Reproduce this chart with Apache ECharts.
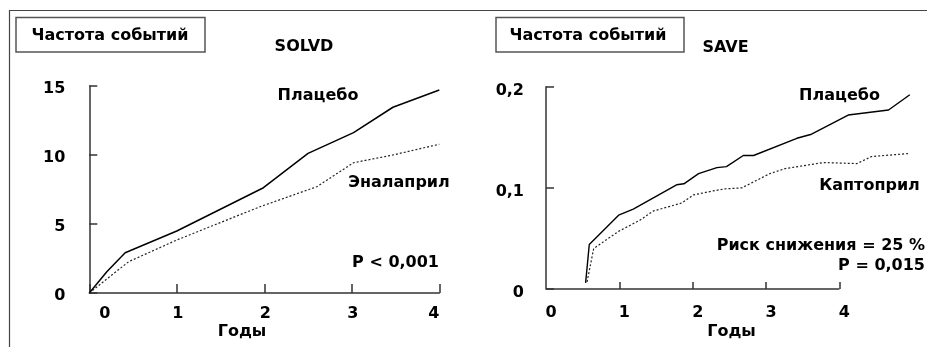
<!DOCTYPE html>
<html><head><meta charset="utf-8">
<script src="https://cdn.jsdelivr.net/npm/echarts@6/dist/echarts.min.js"></script>
<style>html,body{margin:0;padding:0;background:#fff}#c{width:927px;height:347px}</style>
</head><body><div id="c"></div>
<script>
// ---- data ----
const solvdPlaceboX   = [0, 0.20, 0.41, 1.00, 1.99, 2.50, 3.02, 3.47, 4.00];
const solvdPlaceboY   = [0, 1.54, 2.92, 4.49, 7.63, 10.12, 11.62, 13.46, 14.71];
const solvdEnalaprilX = [0, 0.45, 1.00, 1.95, 2.60, 3.02, 3.47, 4.00];
const solvdEnalaprilY = [0, 2.27, 3.84, 6.25, 7.70, 9.44, 10.00, 10.78];

const savePlaceboX   = [0.54, 0.59, 0.99, 1.19, 1.78, 1.88, 2.08, 2.33, 2.46, 2.69, 2.83, 3.42, 3.62, 4.12, 4.67, 4.96];
const savePlaceboY   = [0.006, 0.044, 0.073, 0.079, 0.103, 0.104, 0.114, 0.120, 0.121, 0.132, 0.132, 0.149, 0.153, 0.172, 0.177, 0.192];
const saveCaptoprilX = [0.56, 0.65, 0.99, 1.28, 1.46, 1.85, 2.01, 2.28, 2.44, 2.67, 3.05, 3.26, 3.78, 4.24, 4.44, 4.96];
const saveCaptoprilY = [0.007, 0.040, 0.057, 0.068, 0.077, 0.085, 0.093, 0.097, 0.099, 0.100, 0.114, 0.119, 0.125, 0.124, 0.131, 0.134];

const yearTicks   = [0, 1, 2, 3, 4];
const saveXMax    = 5;   // data runs past the last labelled year
const solvdYTicks = [0, 5, 10, 15];
const saveYTicks  = [0, 0.1, 0.2];

const headerText = 'Частота событий';
const xAxisTitle = 'Годы';
// ---- chart ----
const F = 'DejaVu Sans';
const zip = (xs, ys) => xs.map((x, i) => [x, ys[i]]);
const axisLineStyle = { color: '#333', width: 1.5 };
const lbl = { color: '#000', fontFamily: F, fontWeight: 'bold', fontSize: 16 };
const lastYear = yearTicks[yearTicks.length - 1];

const chart = echarts.init(document.getElementById('c'), null, { renderer: 'canvas' });

function txt(x, y, s, align) {
  return { type: 'text', x: x, y: y, style: { text: s, fill: '#000', font: 'bold 16px "' + F + '"', textAlign: align || 'center', textVerticalAlign: 'middle' } };
}

chart.setOption({
  animation: false,
  grid: [
    { left: 89.3, top: 86, width: 350, height: 207 },
    { left: 546, top: 86.7, width: 366.75, height: 202.3 }
  ],
  xAxis: [
    { gridIndex: 0, type: 'value', min: yearTicks[0], max: lastYear, interval: 1,
      splitLine: { show: false },
      axisLine: { lineStyle: axisLineStyle },
      axisTick: { inside: true, length: 9, lineStyle: axisLineStyle },
      axisLabel: Object.assign({}, lbl, { margin: 13, alignMinLabel: 'left', alignMaxLabel: 'right',
        formatter: v => v === 0 ? '{z|0}' : '{n|' + v + '}',
        rich: { z: Object.assign({}, lbl, { padding: [0, 0, 0, 10] }), n: Object.assign({}, lbl, { padding: [0, 0, 0, 2] }) } }) },
    { gridIndex: 1, type: 'value', min: yearTicks[0], max: saveXMax, interval: 1,
      splitLine: { show: false },
      axisLine: { show: false },
      axisTick: { inside: true, length: 7, lineStyle: axisLineStyle, customValues: yearTicks.slice(1) },
      axisLabel: Object.assign({}, lbl, { margin: 16, customValues: yearTicks,
        formatter: v => '{n|' + v + '}',
        rich: { n: Object.assign({}, lbl, { padding: [0, 0, 0, 10] }) } }) }
  ],
  yAxis: [
    { gridIndex: 0, type: 'value', min: solvdYTicks[0], max: solvdYTicks[solvdYTicks.length - 1], interval: 5,
      splitLine: { show: false },
      axisLine: { show: true, lineStyle: axisLineStyle },
      axisTick: { show: true, inside: true, length: 8, lineStyle: axisLineStyle },
      axisLabel: Object.assign({}, lbl, { margin: 24, verticalAlign: 'top', lineHeight: 5 }) },
    { gridIndex: 1, type: 'value', min: saveYTicks[0], max: saveYTicks[saveYTicks.length - 1], interval: 0.1,
      splitLine: { show: false },
      axisLine: { show: true, lineStyle: axisLineStyle },
      axisTick: { show: true, inside: true, length: 8, lineStyle: axisLineStyle },
      axisLabel: Object.assign({}, lbl, { margin: 22, verticalAlign: 'top', lineHeight: 8,
        formatter: v => String(+v.toFixed(2)).replace('.', ',') }) }
  ],
  series: [
    { type: 'line', xAxisIndex: 0, yAxisIndex: 0, data: zip(solvdPlaceboX, solvdPlaceboY), symbol: 'none',
      lineStyle: { color: '#000', width: 1.5 } },
    { type: 'line', xAxisIndex: 0, yAxisIndex: 0, data: zip(solvdEnalaprilX, solvdEnalaprilY), symbol: 'none',
      lineStyle: { color: '#222', width: 1.2, type: [2, 2] } },
    { type: 'line', xAxisIndex: 1, yAxisIndex: 1, data: zip(savePlaceboX, savePlaceboY), symbol: 'none',
      lineStyle: { color: '#000', width: 1.4 },
      markLine: { silent: true, symbol: 'none', label: { show: false }, lineStyle: { color: '#333', width: 1.5, type: 'solid' },
        data: [[{ coord: [yearTicks[0], saveYTicks[0]] }, { coord: [lastYear, saveYTicks[0]] }]] } },
    { type: 'line', xAxisIndex: 1, yAxisIndex: 1, data: zip(saveCaptoprilX, saveCaptoprilY), symbol: 'none',
      lineStyle: { color: '#222', width: 1.2, type: [2, 2] } }
  ],
  graphic: [
    { type: 'polyline', shape: { points: [[9.5, 347], [9.5, 10.5], [927, 10.5]] }, style: { stroke: '#444', lineWidth: 1.2, fill: null } },
    { type: 'rect', shape: { x: 16, y: 17.5, width: 189, height: 34.5 }, style: { stroke: '#555', lineWidth: 1.5, fill: '#fff' } },
    { type: 'rect', shape: { x: 496, y: 17.5, width: 188, height: 34.5 }, style: { stroke: '#555', lineWidth: 1.5, fill: '#fff' } },
    txt(110, 35.5, headerText),
    txt(588, 35.5, headerText),
    txt(304, 47, 'SOLVD'),
    txt(725.5, 48, 'SAVE'),
    txt(318, 96, 'Плацебо'),
    txt(399, 182.5, 'Эналаприл'),
    txt(439, 262.5, 'P < 0,001', 'right'),
    txt(839.5, 96, 'Плацебо'),
    txt(869.5, 186, 'Каптоприл'),
    txt(925, 246, 'Риск снижения = 25 %', 'right'),
    txt(925, 266, 'P = 0,015', 'right'),
    txt(242, 332, xAxisTitle),
    txt(731.5, 332, xAxisTitle)
  ]
});
</script></body></html>
